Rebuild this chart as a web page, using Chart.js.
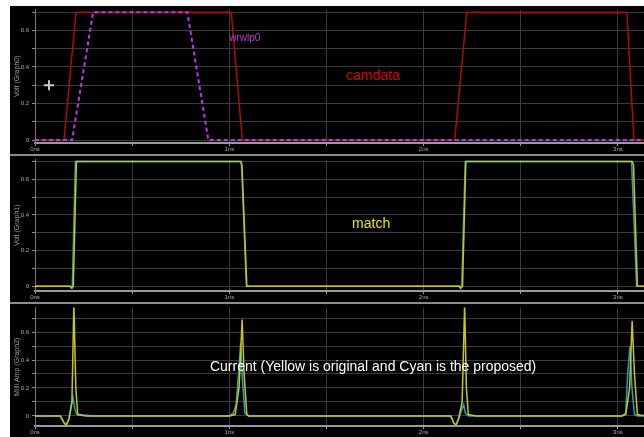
<!DOCTYPE html>
<html>
<head>
<meta charset="utf-8">
<script src="https://cdn.jsdelivr.net/npm/chart.js@4.4.1/dist/chart.umd.min.js"></script>
<style>
    html, body { margin: 0; padding: 0; background: #fff; }
    #wrap { position: absolute; left: 10px; top: 6px; width: 634px; height: 431px; background: #000; overflow: hidden; }
    .panel { position: absolute; left: 0; width: 634px; }
    .sep { position: absolute; left: 0; width: 634px; height: 2px; background: #8c8c8c; }
</style>
</head>
<body>
<div id="wrap">
    <div class="sep" style="top:148px"></div>
    <div class="sep" style="top:296px"></div>
    <div class="panel" style="top:-3px;height:151px"><canvas id="graph0"></canvas></div>
    <div class="panel" style="top:147px;height:149px"><canvas id="graph1"></canvas></div>
    <div class="panel" style="top:295px;height:136px"><canvas id="graph2"></canvas></div>
</div>
<script>
// time axis (ns)
const xTicks = [0, 0.5, 1, 1.5, 2, 2.5, 3];
const yTicks = [0, 0.1, 0.2, 0.3, 0.4, 0.5, 0.6, 0.7];

// Graph0: camdata (red) and wrwlp0 (purple, dashed)
const camTimes = [0, 0.149, 0.211, 1.010, 1.067, 2.160, 2.222, 3.046, 3.082, 3.14];
const camVolts = [0, 0, 0.7, 0.7, 0, 0, 0.7, 0.7, 0, 0];
const wrwTimes = [0, 0.191, 0.299, 0.784, 0.892, 3.14];
const wrwVolts = [0, 0, 0.7, 0.7, 0, 0];

// Graph1: match, original (yellow) and proposed (cyan)
const matchOrigTimes = [0, 0.178, 0.19, 0.197, 0.213, 1.057, 1.065, 1.09, 2.182, 2.19, 2.2, 2.217, 3.074, 3.08, 3.1, 3.14];
const matchOrigVolts = [0, 0, -0.012, 0, 0.7, 0.7, 0.68, 0, 0, -0.012, 0, 0.7, 0.7, 0.68, 0, 0];
const matchPropTimes = [0, 0.185, 0.192, 0.208, 1.062, 1.088, 2.19, 2.196, 2.214, 3.07, 3.096, 3.14];
const matchPropVolts = [0, 0, 0, 0.7, 0.7, 0, 0, 0, 0.7, 0.7, 0, 0];

// Graph2: current (mA), original (yellow) and proposed (cyan)
const curOrigTimes = [0, 0.13, 0.15, 0.16, 0.175, 0.19, 0.2, 0.21, 0.22, 0.26,
    1.0, 1.03, 1.05, 1.066, 1.076, 1.09, 1.1,
    2.14, 2.155, 2.166, 2.18, 2.198, 2.211, 2.22, 2.23, 2.27,
    3.02, 3.04, 3.06, 3.073, 3.085, 3.1, 3.14];
const curOrigAmps = [0, 0, -0.05, -0.065, -0.02, 0.1, 0.8, 0.2, 0.01, 0,
    0, 0.01, 0.2, 0.69, 0.3, 0.01, 0,
    0, -0.05, -0.065, -0.02, 0.1, 0.8, 0.2, 0.01, 0,
    0, 0.01, 0.2, 0.68, 0.3, 0.01, 0];
const curPropTimes = [0, 0.13, 0.15, 0.16, 0.175, 0.188, 0.196, 0.205, 0.215, 0.23, 0.25, 0.27, 0.29,
    1.0, 1.02, 1.035, 1.05, 1.058, 1.068, 1.08, 1.1,
    2.14, 2.155, 2.166, 2.18, 2.195, 2.206, 2.215, 2.23,
    3.02, 3.04, 3.05, 3.062, 3.072, 3.085, 3.1, 3.14];
const curPropAmps = [0, 0, -0.05, -0.07, -0.02, 0.08, 0.13, 0.05, 0.01, 0.01, 0.005, 0.005, 0,
    0, 0.02, 0.08, 0.35, 0.52, 0.25, 0.02, 0,
    0, -0.05, -0.07, -0.02, 0.04, 0.08, 0.02, 0,
    0, 0.02, 0.3, 0.5, 0.2, 0.01, 0, 0];

const pts = (ts, vs) => ts.map((t, i) => ({ x: t, y: vs[i] }));

const notesPlugin = {
    id: "notes",
    afterDatasetsDraw(chart, args, opts) {
        const ctx = chart.ctx;
        const x = chart.scales.x, y = chart.scales.y;
        ctx.save();
        (opts.items || []).forEach(n => {
            ctx.font = n.font;
            ctx.fillStyle = n.color;
            ctx.textAlign = "center";
            ctx.textBaseline = "middle";
            ctx.fillText(n.text, x.getPixelForValue(n.t), y.getPixelForValue(n.v));
        });
        if (opts.cross) {
            const cx = x.getPixelForValue(opts.cross.t), cy = y.getPixelForValue(opts.cross.v);
            ctx.strokeStyle = "#c8c8c8";
            ctx.lineWidth = 2;
            ctx.beginPath();
            ctx.moveTo(cx - 5, cy); ctx.lineTo(cx + 5, cy);
            ctx.moveTo(cx, cy - 5); ctx.lineTo(cx, cy + 5);
            ctx.stroke();
        }
        ctx.restore();
    }
};

function makePanel(id, datasets, yMin, yMax, title, notes, cross) {
    const canvas = document.getElementById(id);
    return new Chart(canvas, {
        type: "line",
        data: { datasets: datasets },
        plugins: [notesPlugin],
        options: {
            responsive: true,
            maintainAspectRatio: false,
            animation: false,
            layout: { padding: { top: 1, right: 0, bottom: 0, left: 0 } },
            elements: { point: { radius: 0 }, line: { tension: 0 } },
            scales: {
                x: {
                    type: "linear",
                    min: 0,
                    max: 3.134,
                    afterBuildTicks: s => { s.ticks = xTicks.map(v => ({ value: v })); },
                    afterFit: s => { s.height = 11; },
                    ticks: {
                        color: "#a8a8a8",
                        font: { family: "Liberation Sans", size: 6 },
                        padding: 0,
                        maxRotation: 0,
                        autoSkip: false,
                        callback: v => Number.isInteger(v) ? v + "ns" : ""
                    },
                    grid: { color: "#3a3a3a", lineWidth: 1, tickLength: 3, tickColor: "#9a9a9a" },
                    border: { color: "#9a9a9a", width: 2 }
                },
                y: {
                    min: yMin,
                    max: yMax,
                    afterBuildTicks: s => { s.ticks = yTicks.map(v => ({ value: v })); },
                    afterFit: s => { s.width = 25; },
                    title: { display: true, text: title, color: "#9a9a9a", font: { family: "Liberation Sans", size: 7 }, padding: { top: 3, bottom: 0 } },
                    ticks: {
                        color: "#a8a8a8",
                        font: { family: "Liberation Sans", size: 6 },
                        padding: 3,
                        callback: v => {
                            const r = Math.round(v * 10);
                            return r % 2 === 0 ? String(r / 10) : "";
                        }
                    },
                    grid: { color: "#3a3a3a", lineWidth: 1, tickLength: 3, tickColor: "#8a8a8a" },
                    border: { color: "#7a7a7a", width: 1 }
                }
            },
            plugins: {
                legend: { display: false },
                tooltip: { enabled: false },
                notes: { items: notes, cross: cross }
            }
        }
    });
}

makePanel("graph0", [
    { label: "wrwlp0", data: pts(wrwTimes, wrwVolts), borderColor: "#b93ae6", borderWidth: 2, borderDash: [4, 3] },
    { label: "camdata", data: pts(camTimes, camVolts), borderColor: "#a80e0e", borderWidth: 1.5 }
], -0.016, 0.714, "Volt (Graph0)", [
    { text: "camdata", t: 1.74, v: 0.35, color: "#e00000", font: "14px 'Liberation Sans'" },
    { text: "wrwlp0", t: 1.08, v: 0.557, color: "#b93ae6", font: "10px 'Liberation Sans'" }
], { t: 0.072, v: 0.3 });

makePanel("graph1", [
    { label: "match original", data: pts(matchOrigTimes, matchOrigVolts), borderColor: "#c8c814", borderWidth: 1.5 },
    { label: "match proposed", data: pts(matchPropTimes, matchPropVolts), borderColor: "#2a9cc0", borderWidth: 1.5, order: 1 }
], -0.027, 0.71, "Volt (Graph1)", [
    { text: "match", t: 1.73, v: 0.35, color: "#e6e600", font: "14px 'Liberation Sans'" }
]);

makePanel("graph2", [
    { label: "current original", data: pts(curOrigTimes, curOrigAmps), borderColor: "#c8c814", borderWidth: 1.5 },
    { label: "current proposed", data: pts(curPropTimes, curPropAmps), borderColor: "#2a9cc0", borderWidth: 1.5 }
], -0.072, 0.775, "Milli Amp (Graph2)", [
    { text: "Current (Yellow is original and Cyan is the proposed)", t: 1.74, v: 0.35, color: "#ffffff", font: "14px 'Liberation Sans'" }
]);
</script>
</body>
</html>
